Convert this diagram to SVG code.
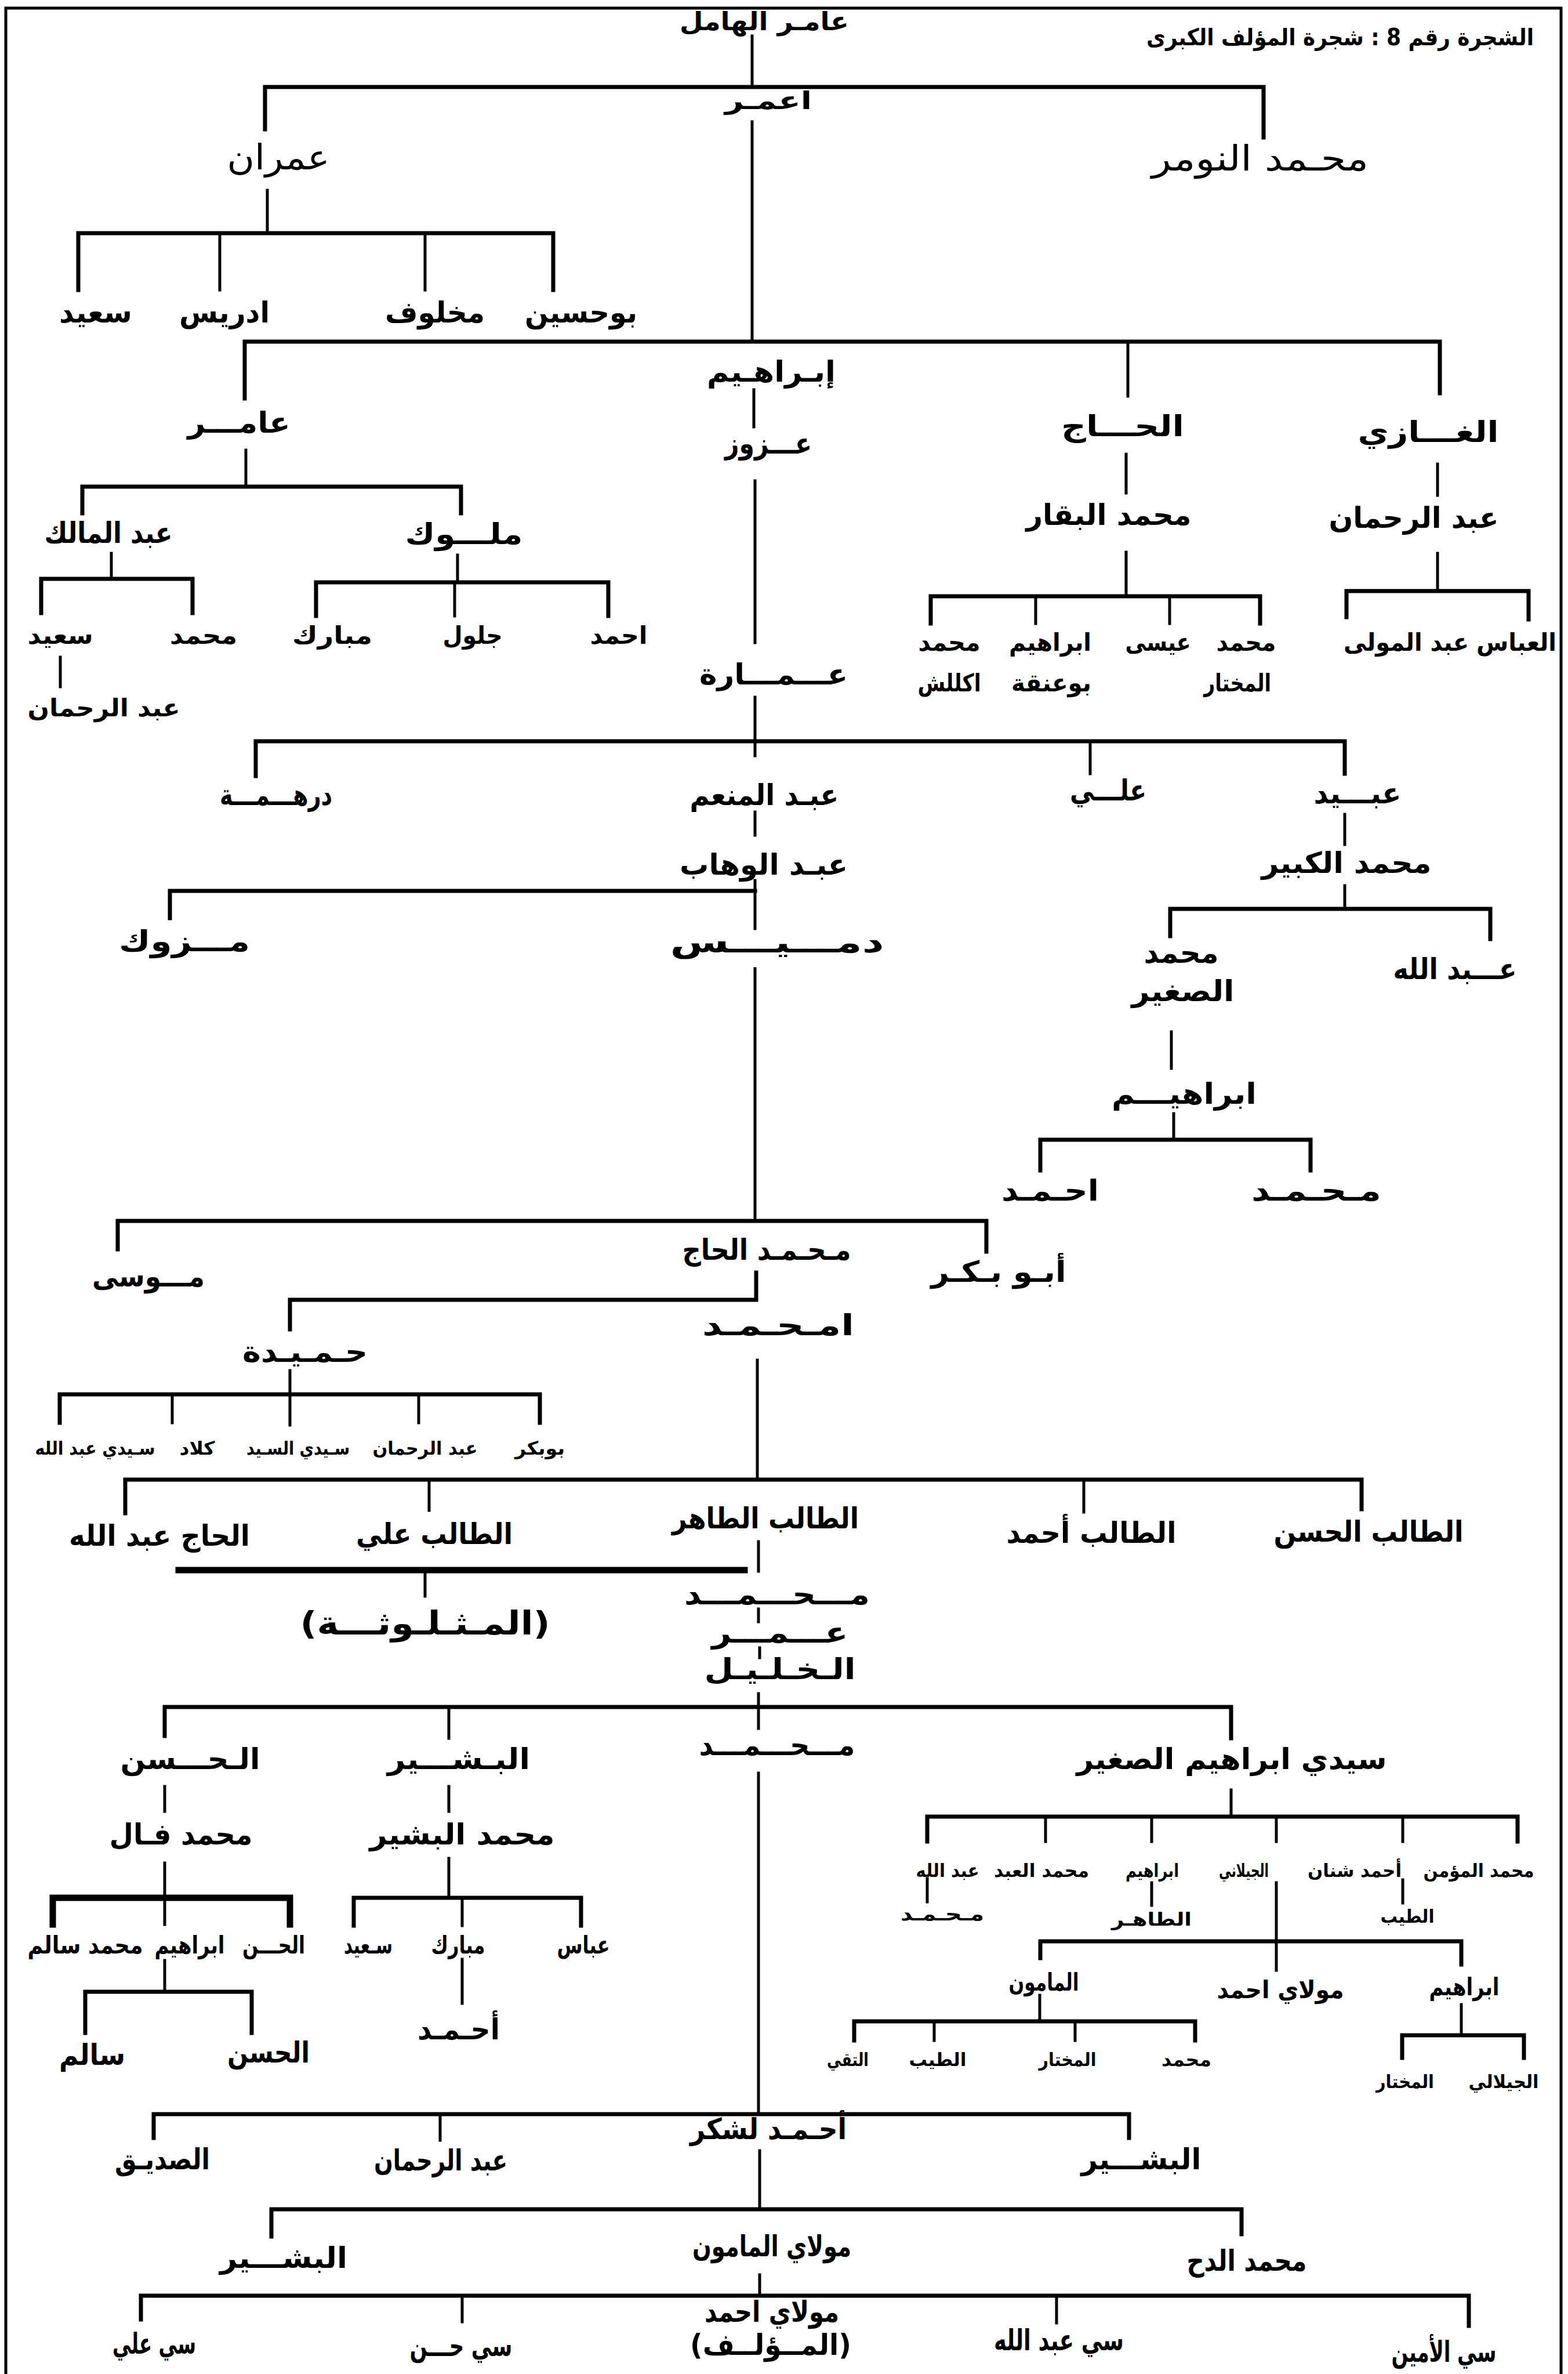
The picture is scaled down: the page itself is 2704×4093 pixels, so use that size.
<svg xmlns="http://www.w3.org/2000/svg" width="2704" height="4093" viewBox="0 0 2704 4093">
<style>
text{font-family:"DejaVu Sans",sans-serif;font-weight:bold;text-anchor:middle;direction:rtl;fill:#000}
.m{font-size:50px}
.s{font-size:42px}
.xs{font-size:32px}
.l{font-size:60px;font-weight:normal}
.t{font-size:40px}
.c path{fill:none;stroke:#000;stroke-width:5;stroke-linecap:square}
.c .b{stroke-width:7}
.c .bb{stroke-width:11}
</style>
<rect width="2704" height="4093" fill="#fff"/>
<g id="connectors" class="c">
<path d="M10,4093 V14 H2692 V4093" stroke-width="5"/>
<path d="M1297,62 V150"/>
<path class="b" d="M457,223 V150 H2179 V237"/>
<path d="M1297,210 V589"/>
<path d="M461,328 V402"/>
<path class="b" d="M135,500 V402 H954 V500"/>
<path d="M379,402 V500 M733,402 V500"/>
<path class="b" d="M422,687 V589 H2483 V678"/>
<path d="M1945,589 V683"/>
<path d="M1300,672 V736"/>
<path d="M1302,829 V1108"/>
<path d="M424,776 V839"/>
<path class="b" d="M142,885 V839 H795 V885"/>
<path d="M192,954 V998"/>
<path class="b" d="M71,1057 V998 H332 V1057"/>
<path d="M104,1133 V1184"/>
<path d="M789,957 V1004"/>
<path class="b" d="M545,1062 V1004 H1049 V1062"/>
<path d="M784,1004 V1062"/>
<path d="M1942,783 V850 M1942,952 V1028"/>
<path class="b" d="M1605,1075 V1028 H2173 V1075"/>
<path d="M1786,1028 V1075 M2017,1028 V1075"/>
<path d="M2479,800 V854 M2479,954 V1019"/>
<path class="b" d="M2322,1064 V1019 H2636 V1068"/>
<path d="M1302,1202 V1303"/>
<path class="b" d="M441,1338 V1278 H2319 V1334"/>
<path d="M1880,1278 V1334"/>
<path d="M1302,1400 V1440"/>
<path class="b" d="M293,1583 V1536 H1302"/>
<path d="M1302,1518 V1601"/>
<path d="M1302,1670 V2105"/>
<path class="b" d="M203,2154 V2105 H1701 V2158"/>
<path d="M2319,1404 V1456 M2319,1527 V1567"/>
<path class="b" d="M2018,1614 V1567 H2570 V1619"/>
<path d="M2020,1779 V1842 M2024,1920 V1965"/>
<path class="b" d="M1794,2018 V1965 H2260 V2018"/>
<path class="b" d="M1304,2194 V2241 H500 V2292"/>
<path d="M1306,2345 V2551"/>
<path d="M500,2363 V2457"/>
<path class="b" d="M103,2453 V2404 H931 V2453"/>
<path d="M297,2404 V2453 M722,2404 V2453"/>
<path class="b" d="M216,2609 V2551 H2348 V2602"/>
<path d="M740,2551 V2604 M1869,2551 V2607"/>
<path d="M1308,2658 V2709"/>
<path class="bb" d="M308,2707 H1284"/>
<path d="M733,2709 V2752"/>
<path d="M1308,2774 V2796 M1310,2841 V2858"/>
<path d="M1308,2920 V2980"/>
<path class="b" d="M284,2993 V2943 H2123 V2997"/>
<path d="M774,2943 V2997"/>
<path d="M1308,3057 V3645"/>
<path d="M284,3080 V3123 M284,3212 V3272"/>
<path class="bb" d="M91,3318 V3272 H500 V3318"/>
<path d="M284,3272 V3318"/>
<path d="M284,3380 V3434"/>
<path class="b" d="M147,3505 V3434 H434 V3505"/>
<path d="M774,3080 V3123 M774,3204 V3272"/>
<path class="b" d="M610,3320 V3272 H1002 V3320"/>
<path d="M797,3272 V3320 M797,3378 V3454"/>
<path d="M2123,3086 V3132"/>
<path class="b" d="M1599,3175 V3132 H2617 V3175"/>
<path d="M1803,3132 V3175 M1986,3132 V3175 M2201,3132 V3175 M2419,3132 V3175"/>
<path d="M1599,3239 V3279 M1986,3246 V3285 M2419,3241 V3281 M2201,3246 V3397"/>
<path class="b" d="M1794,3376 V3347 H2520 V3387"/>
<path d="M1793,3440 V3485"/>
<path class="b" d="M1473,3518 V3485 H2061 V3518"/>
<path d="M1611,3485 V3518 M1854,3485 V3518"/>
<path d="M2520,3456 V3509"/>
<path class="b" d="M2418,3548 V3509 H2628 V3548"/>
<path class="b" d="M265,3686 V3645 H1947 V3686"/>
<path d="M759,3645 V3690"/>
<path d="M1310,3708 V3809"/>
<path class="b" d="M468,3856 V3809 H2141 V3852"/>
<path d="M1310,3922 V3958"/>
<path class="b" d="M243,3999 V3958 H2533 V4010"/>
<path d="M797,3958 V4003 M1822,3958 V4005"/>
</g>
<g id="title"><text class="t" x="2311" y="78" textLength="668" lengthAdjust="spacingAndGlyphs">الشجرة رقم 8 : شجرة المؤلف الكبرى</text></g>
<g id="n-amer-hamel"><text class="m" style="font-size:44px" x="1318" y="52" textLength="292" lengthAdjust="spacingAndGlyphs">عامـر الهامل</text></g>
<g id="n-aamar"><text class="s" x="1325" y="188" textLength="150" lengthAdjust="spacingAndGlyphs">اعمـر</text></g>
<g id="n-omran"><text class="l" x="480" y="292" textLength="177" lengthAdjust="spacingAndGlyphs">عمران</text></g>
<g id="n-nomar"><text class="l" x="2173" y="294" textLength="374" lengthAdjust="spacingAndGlyphs">محـمد النومر</text></g>
<g id="n-said1"><text class="m" x="165" y="556" textLength="126" lengthAdjust="spacingAndGlyphs">سعيد</text></g>
<g id="n-idris"><text class="m" x="387" y="556" textLength="156" lengthAdjust="spacingAndGlyphs">ادريس</text></g>
<g id="n-makhlouf"><text class="m" x="750" y="556" textLength="172" lengthAdjust="spacingAndGlyphs">مخلوف</text></g>
<g id="n-bouhsin"><text class="m" x="1002" y="556" textLength="194" lengthAdjust="spacingAndGlyphs">بوحسين</text></g>
<g id="n-ibrahim1"><text class="m" x="1330" y="658" textLength="222" lengthAdjust="spacingAndGlyphs">إبـراهـيم</text></g>
<g id="n-amer"><text class="m" x="412" y="746" textLength="177" lengthAdjust="spacingAndGlyphs">عامـــر</text></g>
<g id="n-azzouz"><text class="m" x="1325" y="782" textLength="150" lengthAdjust="spacingAndGlyphs">عـــزوز</text></g>
<g id="n-hadj"><text class="m" x="1936" y="752" textLength="212" lengthAdjust="spacingAndGlyphs">الحـــاج</text></g>
<g id="n-ghazi"><text class="m" x="2463" y="762" textLength="243" lengthAdjust="spacingAndGlyphs">الغـــازي</text></g>
<g id="n-baqqar"><text class="m" x="1912" y="905" textLength="285" lengthAdjust="spacingAndGlyphs">محمد البقار</text></g>
<g id="n-abderrahmane1"><text class="m" x="2438" y="910" textLength="293" lengthAdjust="spacingAndGlyphs">عبد الرحمان</text></g>
<g id="n-abdelmalek"><text class="m" x="187" y="936" textLength="221" lengthAdjust="spacingAndGlyphs">عبد المالك</text></g>
<g id="n-mellouk"><text class="m" x="800" y="938" textLength="203" lengthAdjust="spacingAndGlyphs">ملـــوك</text></g>
<g id="n-mohamed1"><text class="s" x="1637" y="1122" textLength="107" lengthAdjust="spacingAndGlyphs">محمد</text><text class="s" x="1637" y="1192" textLength="109" lengthAdjust="spacingAndGlyphs">اكللش</text></g>
<g id="n-ibrahim2"><text class="s" x="1811" y="1122" textLength="142" lengthAdjust="spacingAndGlyphs">ابراهيم</text><text class="s" x="1813" y="1192" textLength="138" lengthAdjust="spacingAndGlyphs">بوعنقة</text></g>
<g id="n-issa"><text class="s" x="1997" y="1122" textLength="113" lengthAdjust="spacingAndGlyphs">عيسى</text></g>
<g id="n-mohamed2"><text class="s" x="2149" y="1122" textLength="103" lengthAdjust="spacingAndGlyphs">محمد</text><text class="s" x="2134" y="1192" textLength="116" lengthAdjust="spacingAndGlyphs">المختار</text></g>
<g id="n-abdelmoula"><text class="s" x="2425" y="1122" textLength="216" lengthAdjust="spacingAndGlyphs">عبد المولى</text></g>
<g id="n-abbas1"><text class="s" x="2615" y="1122" textLength="138" lengthAdjust="spacingAndGlyphs">العباس</text></g>
<g id="n-said2"><text class="s" x="104" y="1110" textLength="113" lengthAdjust="spacingAndGlyphs">سعيد</text></g>
<g id="n-mohamed3"><text class="s" x="351" y="1110" textLength="116" lengthAdjust="spacingAndGlyphs">محمد</text></g>
<g id="n-mbarek1"><text class="s" x="573" y="1110" textLength="138" lengthAdjust="spacingAndGlyphs">مبارك</text></g>
<g id="n-jelloul"><text class="s" x="815" y="1110" textLength="103" lengthAdjust="spacingAndGlyphs">جلول</text></g>
<g id="n-ahmed1"><text class="s" x="1067" y="1110" textLength="99" lengthAdjust="spacingAndGlyphs">احمد</text></g>
<g id="n-abderrahmane2"><text class="s" x="179" y="1235" textLength="263" lengthAdjust="spacingAndGlyphs">عبد الرحمان</text></g>
<g id="n-amara"><text class="m" x="1334" y="1180" textLength="256" lengthAdjust="spacingAndGlyphs">عـــمـــارة</text></g>
<g id="n-derhma"><text class="m" x="476" y="1388" textLength="194" lengthAdjust="spacingAndGlyphs">درهـــمـــة</text></g>
<g id="n-abdelmounaim"><text class="m" x="1318" y="1388" textLength="257" lengthAdjust="spacingAndGlyphs">عبـد المنعم</text></g>
<g id="n-ali1"><text class="m" x="1911" y="1380" textLength="132" lengthAdjust="spacingAndGlyphs">علـــي</text></g>
<g id="n-obeid"><text class="m" x="2341" y="1385" textLength="151" lengthAdjust="spacingAndGlyphs">عبـــيد</text></g>
<g id="n-abdelwahab"><text class="m" x="1317" y="1508" textLength="290" lengthAdjust="spacingAndGlyphs">عبـد الوهاب</text></g>
<g id="n-kebir"><text class="m" x="2322" y="1505" textLength="293" lengthAdjust="spacingAndGlyphs">محمد الكبير</text></g>
<g id="n-mezouk"><text class="m" x="318" y="1640" textLength="226" lengthAdjust="spacingAndGlyphs">مـــزوك</text></g>
<g id="n-damis"><text class="m" x="1340" y="1642" textLength="369" lengthAdjust="spacingAndGlyphs">دمـــيـــس</text></g>
<g id="n-seghir"><text class="m" x="2037" y="1660" textLength="129" lengthAdjust="spacingAndGlyphs">محمد</text><text class="m" x="2040" y="1726" textLength="177" lengthAdjust="spacingAndGlyphs">الصغير</text></g>
<g id="n-abdallah1"><text class="m" x="2509" y="1688" textLength="213" lengthAdjust="spacingAndGlyphs">عـــبد الله</text></g>
<g id="n-ibrahim3"><text class="m" x="2042" y="1903" textLength="250" lengthAdjust="spacingAndGlyphs">ابراهيـــم</text></g>
<g id="n-ahmed2"><text class="m" x="1811" y="2070" textLength="168" lengthAdjust="spacingAndGlyphs">احـمـد</text></g>
<g id="n-mohamed4"><text class="m" x="2270" y="2070" textLength="224" lengthAdjust="spacingAndGlyphs">مـحـمـد</text></g>
<g id="n-moussa"><text class="m" x="256" y="2218" textLength="194" lengthAdjust="spacingAndGlyphs">مـــوسى</text></g>
<g id="n-mohamed-hadj"><text class="m" x="1322" y="2172" textLength="291" lengthAdjust="spacingAndGlyphs">مـحـمـد الحاج</text></g>
<g id="n-aboubakr"><text class="m" x="1722" y="2210" textLength="233" lengthAdjust="spacingAndGlyphs">أبـو بـكـر</text></g>
<g id="n-amhamed"><text class="m" x="1342" y="2302" textLength="262" lengthAdjust="spacingAndGlyphs">امـحـمـد</text></g>
<g id="n-hmida"><text class="m" x="526" y="2348" textLength="216" lengthAdjust="spacingAndGlyphs">حـمـيـدة</text></g>
<g id="n-sidi-abdallah"><text class="xs" x="164" y="2508" textLength="207" lengthAdjust="spacingAndGlyphs">سـيدي عبد الله</text></g>
<g id="n-klad"><text class="xs" x="340" y="2508" textLength="61" lengthAdjust="spacingAndGlyphs">كلاد</text></g>
<g id="n-sidi-sayed"><text class="xs" x="514" y="2508" textLength="178" lengthAdjust="spacingAndGlyphs">سـيدي السـيد</text></g>
<g id="n-abderrahmane3"><text class="xs" x="733" y="2508" textLength="181" lengthAdjust="spacingAndGlyphs">عبد الرحمان</text></g>
<g id="n-boubakr"><text class="xs" x="931" y="2508" textLength="86" lengthAdjust="spacingAndGlyphs">بوبكر</text></g>
<g id="n-hadj-abdallah"><text class="m" x="275" y="2665" textLength="312" lengthAdjust="spacingAndGlyphs">الحاج عبد الله</text></g>
<g id="n-taleb-ali"><text class="m" x="749" y="2662" textLength="270" lengthAdjust="spacingAndGlyphs">الطالب علي</text></g>
<g id="n-taleb-taher"><text class="m" x="1320" y="2635" textLength="322" lengthAdjust="spacingAndGlyphs">الطالب الطاهر</text></g>
<g id="n-taleb-ahmed"><text class="m" x="1882" y="2660" textLength="293" lengthAdjust="spacingAndGlyphs">الطالب أحمد</text></g>
<g id="n-taleb-hassan"><text class="m" x="2360" y="2658" textLength="327" lengthAdjust="spacingAndGlyphs">الطالب الحسن</text></g>
<g id="n-mathlutha"><text class="m" style="font-size:56px" x="733" y="2818" textLength="431" lengthAdjust="spacingAndGlyphs">(المـثـلـوثـــة)</text></g>
<g id="n-mohamed-omar-khalil"><text class="m" x="1340" y="2766" textLength="320" lengthAdjust="spacingAndGlyphs">مـــحـــمـــد</text><text class="m" x="1345" y="2832" textLength="235" lengthAdjust="spacingAndGlyphs">عـــمـــر</text><text class="m" x="1345" y="2895" textLength="261" lengthAdjust="spacingAndGlyphs">الـخـلـيـل</text></g>
<g id="n-mohamed5"><text class="m" x="1340" y="3026" textLength="269" lengthAdjust="spacingAndGlyphs">مـــحـــمـــد</text></g>
<g id="n-hassan1"><text class="m" x="328" y="3050" textLength="241" lengthAdjust="spacingAndGlyphs">الـحـــسن</text></g>
<g id="n-bachir1"><text class="m" x="791" y="3050" textLength="246" lengthAdjust="spacingAndGlyphs">البـشـــير</text></g>
<g id="n-ibrahim-seghir"><text class="m" x="2124" y="3050" textLength="535" lengthAdjust="spacingAndGlyphs">سيدي ابراهيم الصغير</text></g>
<g id="n-mohamed-fal"><text class="m" x="312" y="3180" textLength="247" lengthAdjust="spacingAndGlyphs">محمد فـال</text></g>
<g id="n-mohamed-bachir"><text class="m" x="797" y="3180" textLength="319" lengthAdjust="spacingAndGlyphs">محمد البشير</text></g>
<g id="n-mohamed-salem"><text class="s" x="147" y="3368" textLength="199" lengthAdjust="spacingAndGlyphs">محمد سالم</text></g>
<g id="n-ibrahim4"><text class="s" x="327" y="3368" textLength="121" lengthAdjust="spacingAndGlyphs">ابراهيم</text></g>
<g id="n-hassan2"><text class="s" x="472" y="3368" textLength="108" lengthAdjust="spacingAndGlyphs">الحـــن</text></g>
<g id="n-said3"><text class="s" x="635" y="3368" textLength="84" lengthAdjust="spacingAndGlyphs">سـعيد</text></g>
<g id="n-mbarek2"><text class="s" x="790" y="3368" textLength="93" lengthAdjust="spacingAndGlyphs">مبارك</text></g>
<g id="n-abbas2"><text class="s" x="1006" y="3368" textLength="91" lengthAdjust="spacingAndGlyphs">عباس</text></g>
<g id="n-abdallah2"><text class="xs" x="1634" y="3236" textLength="109" lengthAdjust="spacingAndGlyphs">عبد الله</text><text class="xs" x="1625" y="3311" textLength="144" lengthAdjust="spacingAndGlyphs">مـحـمـد</text></g>
<g id="n-mohamed-abd"><text class="xs" x="1796" y="3236" textLength="164" lengthAdjust="spacingAndGlyphs">محمد العبد</text></g>
<g id="n-ibrahim5"><text class="xs" x="1987" y="3236" textLength="92" lengthAdjust="spacingAndGlyphs">ابراهيم</text><text class="xs" x="1986" y="3320" textLength="138" lengthAdjust="spacingAndGlyphs">الطاهـر</text></g>
<g id="n-jilani1"><text class="xs" x="2145" y="3236" textLength="86" lengthAdjust="spacingAndGlyphs">الجيلاني</text></g>
<g id="n-ahmed-chennan"><text class="xs" x="2336" y="3236" textLength="162" lengthAdjust="spacingAndGlyphs">أحمد شنان</text><text class="xs" x="2427" y="3315" textLength="93" lengthAdjust="spacingAndGlyphs">الطيب</text></g>
<g id="n-mohamed-moumen"><text class="xs" x="2550" y="3236" textLength="191" lengthAdjust="spacingAndGlyphs">محمد المؤمن</text></g>
<g id="n-mamoun1"><text class="s" x="1800" y="3432" textLength="121" lengthAdjust="spacingAndGlyphs">المامون</text></g>
<g id="n-moulay-ahmed1"><text class="s" x="2208" y="3445" textLength="219" lengthAdjust="spacingAndGlyphs">مولاي احمد</text></g>
<g id="n-ibrahim6"><text class="s" x="2525" y="3440" textLength="121" lengthAdjust="spacingAndGlyphs">ابراهيم</text></g>
<g id="n-salem"><text class="m" x="159" y="3560" textLength="114" lengthAdjust="spacingAndGlyphs">سالم</text></g>
<g id="n-hassan3"><text class="m" x="463" y="3556" textLength="142" lengthAdjust="spacingAndGlyphs">الحسن</text></g>
<g id="n-ahmed3"><text class="m" x="791" y="3516" textLength="142" lengthAdjust="spacingAndGlyphs">أحـمـد</text></g>
<g id="n-taqi"><text class="xs" x="1462" y="3562" textLength="72" lengthAdjust="spacingAndGlyphs">التقي</text></g>
<g id="n-tayeb2"><text class="xs" x="1617" y="3562" textLength="99" lengthAdjust="spacingAndGlyphs">الطيب</text></g>
<g id="n-mokhtar2"><text class="xs" x="1841" y="3562" textLength="99" lengthAdjust="spacingAndGlyphs">المختار</text></g>
<g id="n-mohamed6"><text class="xs" x="2046" y="3562" textLength="86" lengthAdjust="spacingAndGlyphs">محمد</text></g>
<g id="n-mokhtar3"><text class="xs" x="2423" y="3600" textLength="100" lengthAdjust="spacingAndGlyphs">المختار</text></g>
<g id="n-jilali"><text class="xs" x="2593" y="3600" textLength="121" lengthAdjust="spacingAndGlyphs">الجيلالي</text></g>
<g id="n-ahmed-lachkar"><text class="m" x="1325" y="3688" textLength="270" lengthAdjust="spacingAndGlyphs">أحـمـد لشكر</text></g>
<g id="n-seddik"><text class="m" x="280" y="3740" textLength="164" lengthAdjust="spacingAndGlyphs">الصديـق</text></g>
<g id="n-abderrahmane4"><text class="m" x="760" y="3742" textLength="230" lengthAdjust="spacingAndGlyphs">عبد الرحمان</text></g>
<g id="n-bachir2"><text class="m" x="1968" y="3740" textLength="207" lengthAdjust="spacingAndGlyphs">البشـــير</text></g>
<g id="n-moulay-mamoun"><text class="m" x="1331" y="3890" textLength="274" lengthAdjust="spacingAndGlyphs">مولاي المامون</text></g>
<g id="n-bachir3"><text class="m" x="489" y="3910" textLength="220" lengthAdjust="spacingAndGlyphs">البشـــير</text></g>
<g id="n-mohamed-dah"><text class="m" x="2150" y="3915" textLength="207" lengthAdjust="spacingAndGlyphs">محمد الدح</text></g>
<g id="n-moulay-ahmed2"><text class="m" x="1331" y="4003" textLength="232" lengthAdjust="spacingAndGlyphs">مولاي احمد</text><text class="m" x="1329" y="4060" textLength="278" lengthAdjust="spacingAndGlyphs">(المــؤلــف)</text></g>
<g id="n-si-ali"><text class="m" x="266" y="4058" textLength="144" lengthAdjust="spacingAndGlyphs">سي علي</text></g>
<g id="n-si-hassan"><text class="m" x="795" y="4062" textLength="177" lengthAdjust="spacingAndGlyphs">سي حـــن</text></g>
<g id="n-si-abdallah"><text class="m" x="1826" y="4052" textLength="224" lengthAdjust="spacingAndGlyphs">سي عبد الله</text></g>
<g id="n-si-lamine"><text class="m" x="2490" y="4072" textLength="181" lengthAdjust="spacingAndGlyphs">سي الأمين</text></g>
</svg>
